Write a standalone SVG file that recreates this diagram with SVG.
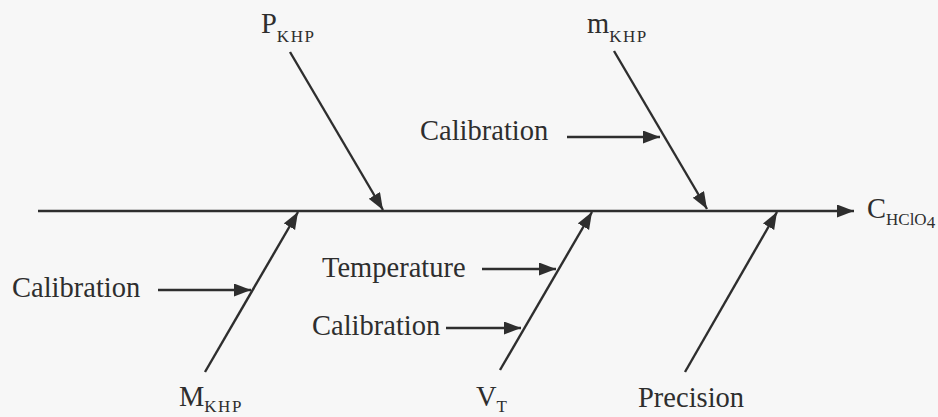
<svg xmlns="http://www.w3.org/2000/svg" width="938" height="417" viewBox="0 0 938 417">
<defs>
<style>
.t{font-family:"Liberation Serif","Times New Roman",serif;font-size:28.5px;fill:#2e2e2e}
.s{font-size:17px;letter-spacing:1.5px}
.ln{stroke:#2e2e2e;stroke-width:2.4;fill:none}
</style>
<marker id="ah" markerUnits="userSpaceOnUse" markerWidth="20" markerHeight="14" refX="17" refY="6.5" orient="auto">
<path d="M0,0 L17,6.5 L0,13 Z" fill="#2e2e2e"/>
</marker>
</defs>
<rect width="938" height="417" fill="#f7f7f7"/>
<g id="connectors">
<line class="ln" x1="38" y1="211" x2="854" y2="211" marker-end="url(#ah)"/>
<line class="ln" x1="290" y1="52" x2="383" y2="210" marker-end="url(#ah)"/>
<line class="ln" x1="614" y1="51" x2="707" y2="209" marker-end="url(#ah)"/>
<line class="ln" x1="567" y1="137" x2="660" y2="137" marker-end="url(#ah)"/>
<line class="ln" x1="205" y1="372" x2="298" y2="212" marker-end="url(#ah)"/>
<line class="ln" x1="158" y1="290" x2="251" y2="290" marker-end="url(#ah)"/>
<line class="ln" x1="500" y1="370" x2="592" y2="212" marker-end="url(#ah)"/>
<line class="ln" x1="482" y1="269" x2="556" y2="269" marker-end="url(#ah)"/>
<line class="ln" x1="446" y1="328" x2="521" y2="328" marker-end="url(#ah)"/>
<line class="ln" x1="685" y1="372" x2="777" y2="212" marker-end="url(#ah)"/>
</g>
<g id="n-pkhp"><text class="t" x="261" y="33">P<tspan class="s" dy="9">KHP</tspan></text></g>
<g id="n-mkhp"><text class="t" x="587" y="33">m<tspan class="s" dy="9">KHP</tspan></text></g>
<g id="n-cal-top"><text class="t" x="420" y="140">Calibration</text></g>
<g id="n-result"><text class="t" x="867" y="218">C<tspan class="s" dy="7" style="letter-spacing:0">HClO</tspan><tspan class="s" dy="3" style="letter-spacing:0">4</tspan></text></g>
<g id="n-cal-left"><text class="t" x="12" y="297">Calibration</text></g>
<g id="n-Mkhp"><text class="t" x="179" y="406">M<tspan class="s" dy="6">KHP</tspan></text></g>
<g id="n-temp"><text class="t" x="322" y="277">Temperature</text></g>
<g id="n-cal-mid"><text class="t" x="312" y="335">Calibration</text></g>
<g id="n-vt"><text class="t" x="476" y="406">V<tspan class="s" dy="6">T</tspan></text></g>
<g id="n-precision"><text class="t" x="638" y="407">Precision</text></g>
</svg>
